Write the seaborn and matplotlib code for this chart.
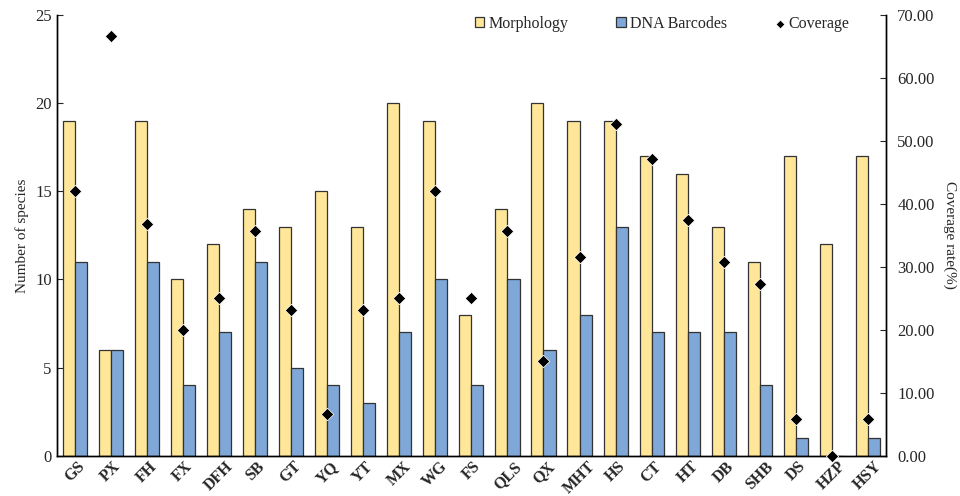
import matplotlib
matplotlib.use("Agg")
import matplotlib.pyplot as plt
import numpy as np
import pandas as pd
import seaborn as sns

sites = ["GS", "PX", "FH", "FX", "DFH", "SB", "GT", "YQ", "YT", "MX", "WG", "FS",
         "QLS", "QX", "MHT", "HS", "CT", "HT", "DB", "SHB", "DS", "HZP", "HSY"]
morphology = [19, 6, 19, 10, 12, 14, 13, 15, 13, 20, 19, 8, 14, 20, 19, 19, 17, 16, 13, 11, 17, 12, 17]
barcodes = [11, 6, 11, 4, 7, 11, 5, 4, 3, 7, 10, 4, 10, 6, 8, 13, 7, 7, 7, 4, 1, 0, 1]
coverage = [42.11, 66.67, 36.84, 20.00, 25.00, 35.71, 23.08, 6.67, 23.08, 25.00, 42.11, 25.00,
            35.71, 15.00, 31.58, 52.63, 47.06, 37.50, 30.77, 27.27, 5.88, 0.00, 5.88]

sns.set_style("white")
plt.rcParams["font.family"] = ["Liberation Serif", "DejaVu Serif"]

# Long format for grouped bars
df = pd.DataFrame({"site": sites, "Morphology": morphology, "DNA Barcodes": barcodes})
df_long = df.melt(id_vars="site", var_name="type", value_name="count")

fig, ax = plt.subplots(figsize=(9.6, 4.96), dpi=100)
fig.subplots_adjust(left=0.059, right=0.923, bottom=0.081, top=0.97)

sns.barplot(data=df_long, x="site", y="count", hue="type", order=sites,
            palette={"Morphology": "#FFE699", "DNA Barcodes": "#7FA7D8"}, saturation=1,
            edgecolor="#333333", linewidth=0.9, width=0.67, ax=ax)

ax.set_xlim(-0.5, len(sites) - 0.5)
ax.set_ylim(0, 25)
ax.set_yticks([0, 5, 10, 15, 20, 25])
ax.set_ylabel("Number of species", fontsize=11)
ax.set_xlabel("")
ax.tick_params(axis="y", direction="in", length=4, labelsize=12, left=True)
ax.tick_params(axis="x", length=0, labelsize=11.5, pad=2)
for lbl in ax.get_xticklabels():
    lbl.set_rotation(45)
    lbl.set_fontweight("bold")
    lbl.set_ha("center")

# Coverage on secondary axis
ax2 = ax.twinx()
sns.scatterplot(x=np.arange(len(sites)), y=coverage, marker="D", color="black",
                s=40, ax=ax2, label="Coverage", clip_on=False, zorder=5)
ax2.set_ylim(0, 70)
ax2.set_yticks(np.arange(0, 71, 10))
ax2.set_yticklabels([f"{v:.2f}" for v in np.arange(0, 71, 10)])
ax2.set_ylabel("Coverage rate(%)", fontsize=11, rotation=270, labelpad=16)
ax2.tick_params(axis="y", direction="in", length=4, labelsize=12, right=True, pad=8)

for a in (ax, ax2):
    a.spines["top"].set_visible(False)
    for s in ("left", "right", "bottom"):
        a.spines[s].set_color("black")
        a.spines[s].set_linewidth(1.0)

# Combined legend
h1, l1 = ax.get_legend_handles_labels()
h2, l2 = ax2.get_legend_handles_labels()
ax.get_legend().remove()
ax2.get_legend().remove()
ax2.legend(h1 + h2, l1 + l2, loc="upper center", bbox_to_anchor=(0.73, 1.03), ncol=3,
           frameon=False, fontsize=11.5, handlelength=0.6, handleheight=0.6,
           handletextpad=0.25, columnspacing=3.0, markerscale=0.7)

fig.savefig("out.png", dpi=100)
